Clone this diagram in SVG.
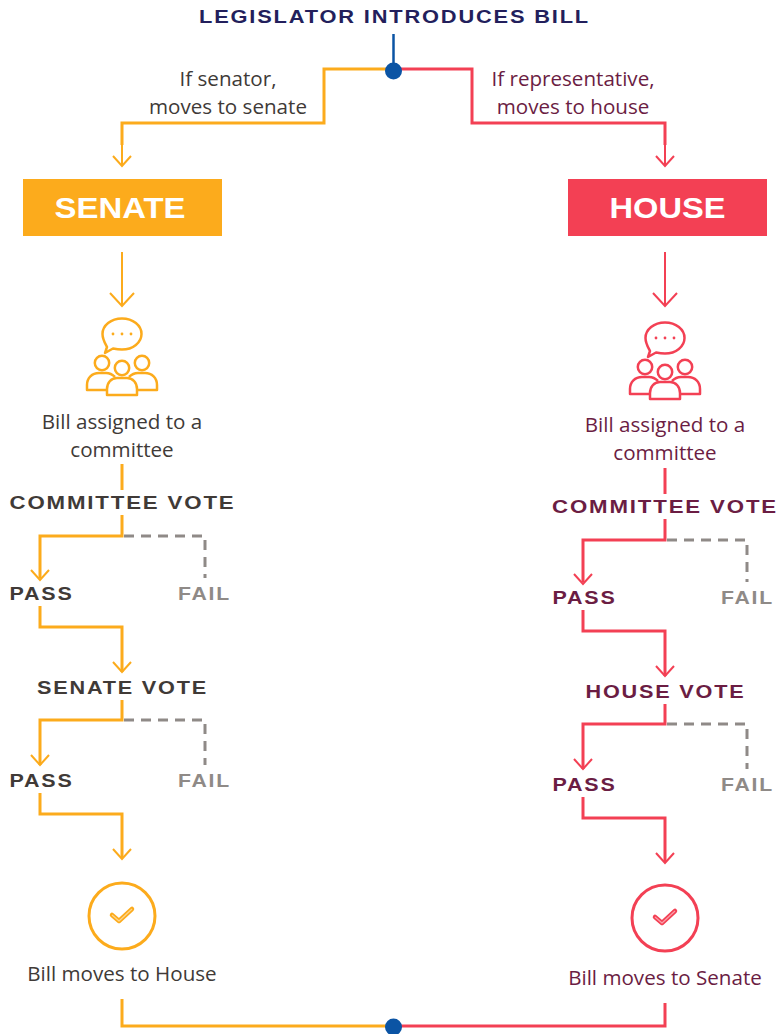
<svg xmlns="http://www.w3.org/2000/svg" width="778" height="1034" viewBox="0 0 778 1034">
<style>
.o{fill:none;stroke:#FCAB1C;stroke-width:3}
.r{fill:none;stroke:#F34054;stroke-width:3}
.th{stroke-width:2}
.d{fill:none;stroke:#8F8A87;stroke-width:3;stroke-dasharray:10 7}
text{font-family:"Liberation Sans",Arial,sans-serif;text-anchor:middle}
.h{font-weight:bold;font-size:18px;letter-spacing:1.5px}
.b{font-family:"Open Sans","Noto Sans",sans-serif;font-size:20.600px;text-anchor:middle}
.dk{fill:#403A37}.mr{fill:#6B1D43}.gr{fill:#8F8A87}
.t{font-weight:bold;font-size:30px;fill:#fff}
</style>
<defs>
<g id="people" fill="none" stroke-width="2.500" stroke-linejoin="round">
<path d="M-15,-41 L-17,-35 L-9,-39.500 C-5,-38.700 -2.500,-38.500 0,-38.500 C11,-38.500 19.500,-45.500 19.500,-54 C19.500,-62.500 11,-69.500 0,-69.500 C-11,-69.500 -19.500,-62.500 -19.500,-54 C-19.500,-48.500 -16.500,-44 -15,-41 Z"/>
<circle cx="-20" cy="-25" r="7.200"/>
<circle cx="20" cy="-25" r="7.200"/>
<circle cx="0" cy="-20" r="7.200"/>
<path d="M-15,2 H-35 V-3 C-35,-10 -30,-15 -23,-15 H-16 C-12,-15 -9,-13 -7,-11"/>
<path d="M15,2 H35 V-3 C35,-10 30,-15 23,-15 H16 C12,-15 9,-13 7,-11"/>
<path d="M-15,7 V1 C-15,-5 -11,-10 -5,-10 H5 C11,-10 15,-5 15,1 V7 Z"/>
<g fill="currentColor" stroke="none"><circle cx="-9" cy="-54" r="1.400"/><circle cx="0" cy="-54" r="1.400"/><circle cx="9" cy="-54" r="1.400"/></g>
</g>
</defs>

<g id="connectors">
<path d="M393.500,34 V70" fill="none" stroke="#0B54A4" stroke-width="2.500"/>
<path class="o" d="M388,69 H324 V123 H122 V145"/>
<path class="o th" d="M122,145 V166 M113,156 L122,166 L131,156"/>
<path class="r" d="M399,69 H472 V123 H665 V145"/>
<path class="r th" d="M665,145 V166 M656,156 L665,166 L674,156"/>

<path class="o th" d="M122,252 V305 M110,293 L122,306 L134,293"/>
<path class="o" d="M122,464 V490 M122,515 V536 H40 V578"/>
<path class="o th" d="M31,570 L40,580 L49,570"/>
<path class="d" d="M124,536 H205 V578"/>
<path class="o" d="M40,606 V627 H122 V672"/>
<path class="o th" d="M113,662 L122,672 L131,662"/>
<path class="o" d="M122,700 V720 H40 V765"/>
<path class="o th" d="M31,755 L40,765 L49,755"/>
<path class="d" d="M124,720 H205 V765"/>
<path class="o" d="M40,793 V814 H122 V858"/>
<path class="o th" d="M113,849 L122,859 L131,849"/>
<path class="o" d="M122,999 V1026 H388"/>

<path class="r th" d="M665,252 V305 M653,293 L665,306 L677,293"/>
<path class="r" d="M665,468 V494 M665,519 V540 H583 V582"/>
<path class="r th" d="M574,574 L583,584 L592,574"/>
<path class="d" d="M667,540 H747 V582"/>
<path class="r" d="M583,610 V631 H665 V676"/>
<path class="r th" d="M656,666 L665,676 L674,666"/>
<path class="r" d="M665,704 V724 H583 V769"/>
<path class="r th" d="M574,759 L583,769 L592,759"/>
<path class="d" d="M667,724 H747 V769"/>
<path class="r" d="M583,797 V818 H665 V862"/>
<path class="r th" d="M656,853 L665,863 L674,853"/>
<path class="r" d="M665,1003 V1026 H399"/>
</g>

<g id="start"><text class="h" x="394.500" y="23" fill="#231F5C" textLength="391" lengthAdjust="spacingAndGlyphs">LEGISLATOR INTRODUCES BILL</text></g>
<g id="dot-top"><circle cx="393.500" cy="71" r="8.500" fill="#0B54A4"/></g>
<g id="dot-bottom"><circle cx="393.500" cy="1027" r="8.500" fill="#0B54A4"/></g>

<g id="label-senator"><text class="b dk" x="228" y="86">If senator,</text><text class="b dk" x="228" y="114">moves to senate</text></g>
<g id="label-rep"><text class="b mr" x="573" y="86">If representative,</text><text class="b mr" x="573" y="114">moves to house</text></g>

<g id="senate"><rect x="23" y="179" width="199" height="57" fill="#FCAB1C"/><text class="t" x="120" y="218" textLength="131" lengthAdjust="spacingAndGlyphs">SENATE</text></g>
<g id="house"><rect x="568" y="179" width="199" height="57" fill="#F34054"/><text class="t" x="667.500" y="218" textLength="116" lengthAdjust="spacingAndGlyphs">HOUSE</text></g>

<g id="senate-icon" color="#FCAB1C"><use href="#people" x="122" y="388" stroke="#FCAB1C"/></g>
<g id="house-icon" color="#F34054"><use href="#people" x="665" y="392" stroke="#F34054"/></g>

<g id="senate-assigned"><text class="b dk" x="122" y="429">Bill assigned to a</text><text class="b dk" x="122" y="457">committee</text></g>
<g id="house-assigned"><text class="b mr" x="665" y="432">Bill assigned to a</text><text class="b mr" x="665" y="460">committee</text></g>

<g id="senate-committee-vote"><text class="h dk" x="122.500" y="509" textLength="226" lengthAdjust="spacingAndGlyphs">COMMITTEE VOTE</text></g>
<g id="senate-pass-1"><text class="h dk" x="41.500" y="600" textLength="64" lengthAdjust="spacingAndGlyphs">PASS</text></g>
<g id="senate-fail-1"><text class="h gr" x="204.500" y="600" textLength="53" lengthAdjust="spacingAndGlyphs">FAIL</text></g>
<g id="senate-vote"><text class="h dk" x="122.500" y="694" textLength="171" lengthAdjust="spacingAndGlyphs">SENATE VOTE</text></g>
<g id="senate-pass-2"><text class="h dk" x="41.500" y="787" textLength="64" lengthAdjust="spacingAndGlyphs">PASS</text></g>
<g id="senate-fail-2"><text class="h gr" x="204.500" y="787" textLength="53" lengthAdjust="spacingAndGlyphs">FAIL</text></g>

<g id="house-committee-vote"><text class="h mr" x="665" y="513" textLength="226" lengthAdjust="spacingAndGlyphs">COMMITTEE VOTE</text></g>
<g id="house-pass-1"><text class="h mr" x="584.500" y="604" textLength="64" lengthAdjust="spacingAndGlyphs">PASS</text></g>
<g id="house-fail-1"><text class="h gr" x="747.500" y="604" textLength="53" lengthAdjust="spacingAndGlyphs">FAIL</text></g>
<g id="house-vote"><text class="h mr" x="665.500" y="698" textLength="160" lengthAdjust="spacingAndGlyphs">HOUSE VOTE</text></g>
<g id="house-pass-2"><text class="h mr" x="584.500" y="791" textLength="64" lengthAdjust="spacingAndGlyphs">PASS</text></g>
<g id="house-fail-2"><text class="h gr" x="747.500" y="791" textLength="53" lengthAdjust="spacingAndGlyphs">FAIL</text></g>

<g id="senate-check"><circle class="o" cx="122" cy="916" r="33"/><path d="M112,915 L119,921 L132,909" fill="none" stroke="#FCAB1C" stroke-width="4.500" stroke-linecap="round" stroke-linejoin="round"/><path d="M112,915 L119,921 L132,909" fill="none" stroke="#FDD58E" stroke-width="1.200" stroke-linejoin="round"/></g>
<g id="house-check"><circle class="r" cx="665" cy="918" r="33"/><path d="M655,917 L662,923 L675,911" fill="none" stroke="#F34054" stroke-width="4.500" stroke-linecap="round" stroke-linejoin="round"/><path d="M655,917 L662,923 L675,911" fill="none" stroke="#F9A0AA" stroke-width="1.200" stroke-linejoin="round"/></g>
<g id="senate-result"><text class="b dk" x="122" y="981">Bill moves to House</text></g>
<g id="house-result"><text class="b mr" x="665" y="985">Bill moves to Senate</text></g>
</svg>
